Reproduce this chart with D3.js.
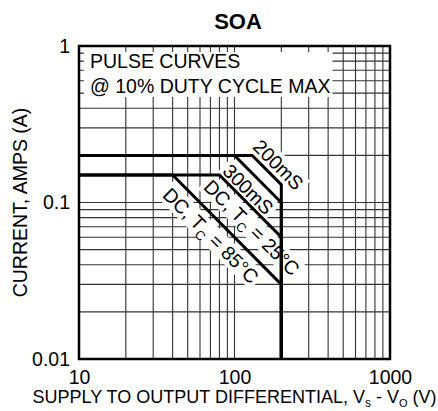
<!DOCTYPE html>
<html>
<head>
<meta charset="utf-8">
<script src="https://cdn.jsdelivr.net/npm/d3@7"></script>
<style>
  body { margin: 0; background: #fff; }
  text { font-family: "Liberation Sans", Arial, Helvetica, sans-serif; fill: #000; }
</style>
</head>
<body>
<div id="chart"></div>
<script>
const xTicks = [10, 100, 1000];
const yTicks = [0.01, 0.1, 1];

// SOA corners: [volts, amps]
const curve200ms = [[10, 0.2], [130, 0.2], [200, 0.13], [200, 0.01]];
const curve300ms = [[10, 0.2], [100, 0.2], [200, 0.1], [200, 0.01]];
const curveDC25 = [[10, 0.15], [80, 0.15], [200, 0.06], [200, 0.01]];
const curveDC85 = [[10, 0.15], [40, 0.15], [200, 0.03], [200, 0.01]];

const curveLabels = [
  { curve: curve200ms, at: 169, off: -12, parts: [["200mS"]] },
  { curve: curve300ms, at: 142, off: 14, parts: [["300mS"]] },
  { curve: curveDC25, at: 150, off: 14, parts: [["DC, T"], ["C", "sub"], [" = 25°C"]] },
  { curve: curveDC85, at: 83, off: 15.5, parts: [["DC, T"], ["C", "sub"], [" = 85°C"]] }
];

const noteLines = ["PULSE CURVES", "@ 10% DUTY CYCLE MAX"];

const margin = { top: 46, right: 48, bottom: 52, left: 79 };
const width = 311;
const height = 313;

const svg = d3.select("#chart")
  .append("svg")
  .attr("width", 438)
  .attr("height", 411);

const g = svg.append("g")
  .attr("transform", `translate(${margin.left},${margin.top})`);

const x = d3.scaleLog().domain([10, 1000]).range([0, width]);
const y = d3.scaleLog().domain([0.01, 1]).range([height, 0]);

// grid
g.append("g")
  .selectAll("line")
  .data(x.ticks())
  .join("line")
  .attr("x1", d => x(d)).attr("x2", d => x(d))
  .attr("y1", 0).attr("y2", height)
  .attr("stroke", "#333")
  .attr("stroke-width", 1.1);

g.append("g")
  .selectAll("line")
  .data(y.ticks())
  .join("line")
  .attr("y1", d => y(d)).attr("y2", d => y(d))
  .attr("x1", 0).attr("x2", width)
  .attr("stroke", "#333")
  .attr("stroke-width", 1.1);

// note box
const note = g.append("g");
const noteBg = note.append("rect").attr("fill", "#fff");
const noteText = note.append("text")
  .attr("font-size", "19.5px");
noteText.selectAll("tspan")
  .data(noteLines)
  .join("tspan")
  .attr("x", 11)
  .attr("y", (d, i) => 21.7 + i * 25.5)
  .text(d => d);
const nb = noteText.node().getBBox();
noteBg
  .attr("x", 5)
  .attr("y", 6)
  .attr("width", nb.x + nb.width + 2 - 5)
  .attr("height", 45);

// label backgrounds go under the curves, text on top
const labelBg = g.append("g");
const curveLayer = g.append("g");
const labelLayer = g.append("g");

const line = d3.line().x(d => x(d[0])).y(d => y(d[1]));

curveLayer.selectAll("path")
  .data([curve200ms, curve300ms, curveDC25, curveDC85])
  .join("path")
  .attr("d", line)
  .attr("fill", "none")
  .attr("stroke", "#000")
  .attr("stroke-width", 3)
  .attr("stroke-linejoin", "miter");

function onDiagonal(curve, v) {
  const [a, b] = [curve[1], curve[2]];
  const t = Math.log(v / a[0]) / Math.log(b[0] / a[0]);
  const amps = Math.exp(Math.log(a[1]) + t * (Math.log(b[1]) - Math.log(a[1])));
  return [x(v), y(amps)];
}

curveLabels.forEach(lb => {
  const [px, py] = onDiagonal(lb.curve, lb.at);
  const tr = `translate(${px},${py}) rotate(45)`;
  const t = labelLayer.append("text")
    .attr("transform", tr)
    .attr("text-anchor", "middle")
    .attr("font-size", "19.5px");
  lb.parts.forEach((p, i) => {
    const ts = t.append("tspan").text(p[0]);
    if (i === 0) ts.attr("x", 0).attr("y", lb.off + 7);
    if (p[1] === "sub") ts.attr("font-size", "13px").attr("dy", 5);
    else if (i > 0 && lb.parts[i - 1][1] === "sub") ts.attr("dy", -5);
  });
  const bb = t.node().getBBox();
  labelBg.append("rect")
    .attr("transform", tr)
    .attr("x", bb.x - 3)
    .attr("y", lb.off - 11)
    .attr("width", bb.width + 6)
    .attr("height", 22)
    .attr("fill", "#fff");
});

// frame
g.append("rect")
  .attr("width", width)
  .attr("height", height)
  .attr("fill", "none")
  .attr("stroke", "#000")
  .attr("stroke-width", 2.5);

// axes
const xAxis = g.append("g")
  .attr("transform", `translate(0,${height})`)
  .call(d3.axisBottom(x).tickValues(xTicks).tickSize(0).tickPadding(11).tickFormat(d3.format("d")));
const yAxis = g.append("g")
  .call(d3.axisLeft(y).tickValues(yTicks).tickSize(0).tickPadding(9).tickFormat(d => String(d)));
[xAxis, yAxis].forEach(a => {
  a.select(".domain").remove();
  a.selectAll("text")
    .attr("font-family", "Liberation Sans, Arial, sans-serif")
    .attr("font-size", "19.5px")
    .attr("fill", "#000");
});

// titles
svg.append("text")
  .attr("x", 238)
  .attr("y", 28.5)
  .attr("text-anchor", "middle")
  .attr("font-size", "22px")
  .attr("font-weight", "bold")
  .text("SOA");

const xTitle = svg.append("text")
  .attr("x", margin.left + width / 2)
  .attr("y", 403)
  .attr("text-anchor", "middle")
  .attr("font-size", "18px");
xTitle.append("tspan").text("SUPPLY TO OUTPUT DIFFERENTIAL, V");
xTitle.append("tspan").text("s").attr("font-size", "12px").attr("dy", 4);
xTitle.append("tspan").text(" - V").attr("dy", -4);
xTitle.append("tspan").text("O").attr("font-size", "11px").attr("dy", 4);
xTitle.append("tspan").text(" (V)").attr("dy", -4);

svg.append("text")
  .attr("transform", `translate(27,${margin.top + height / 2}) rotate(-90)`)
  .attr("text-anchor", "middle")
  .attr("font-size", "19.5px")
  .text("CURRENT, AMPS (A)");
</script>
</body>
</html>
